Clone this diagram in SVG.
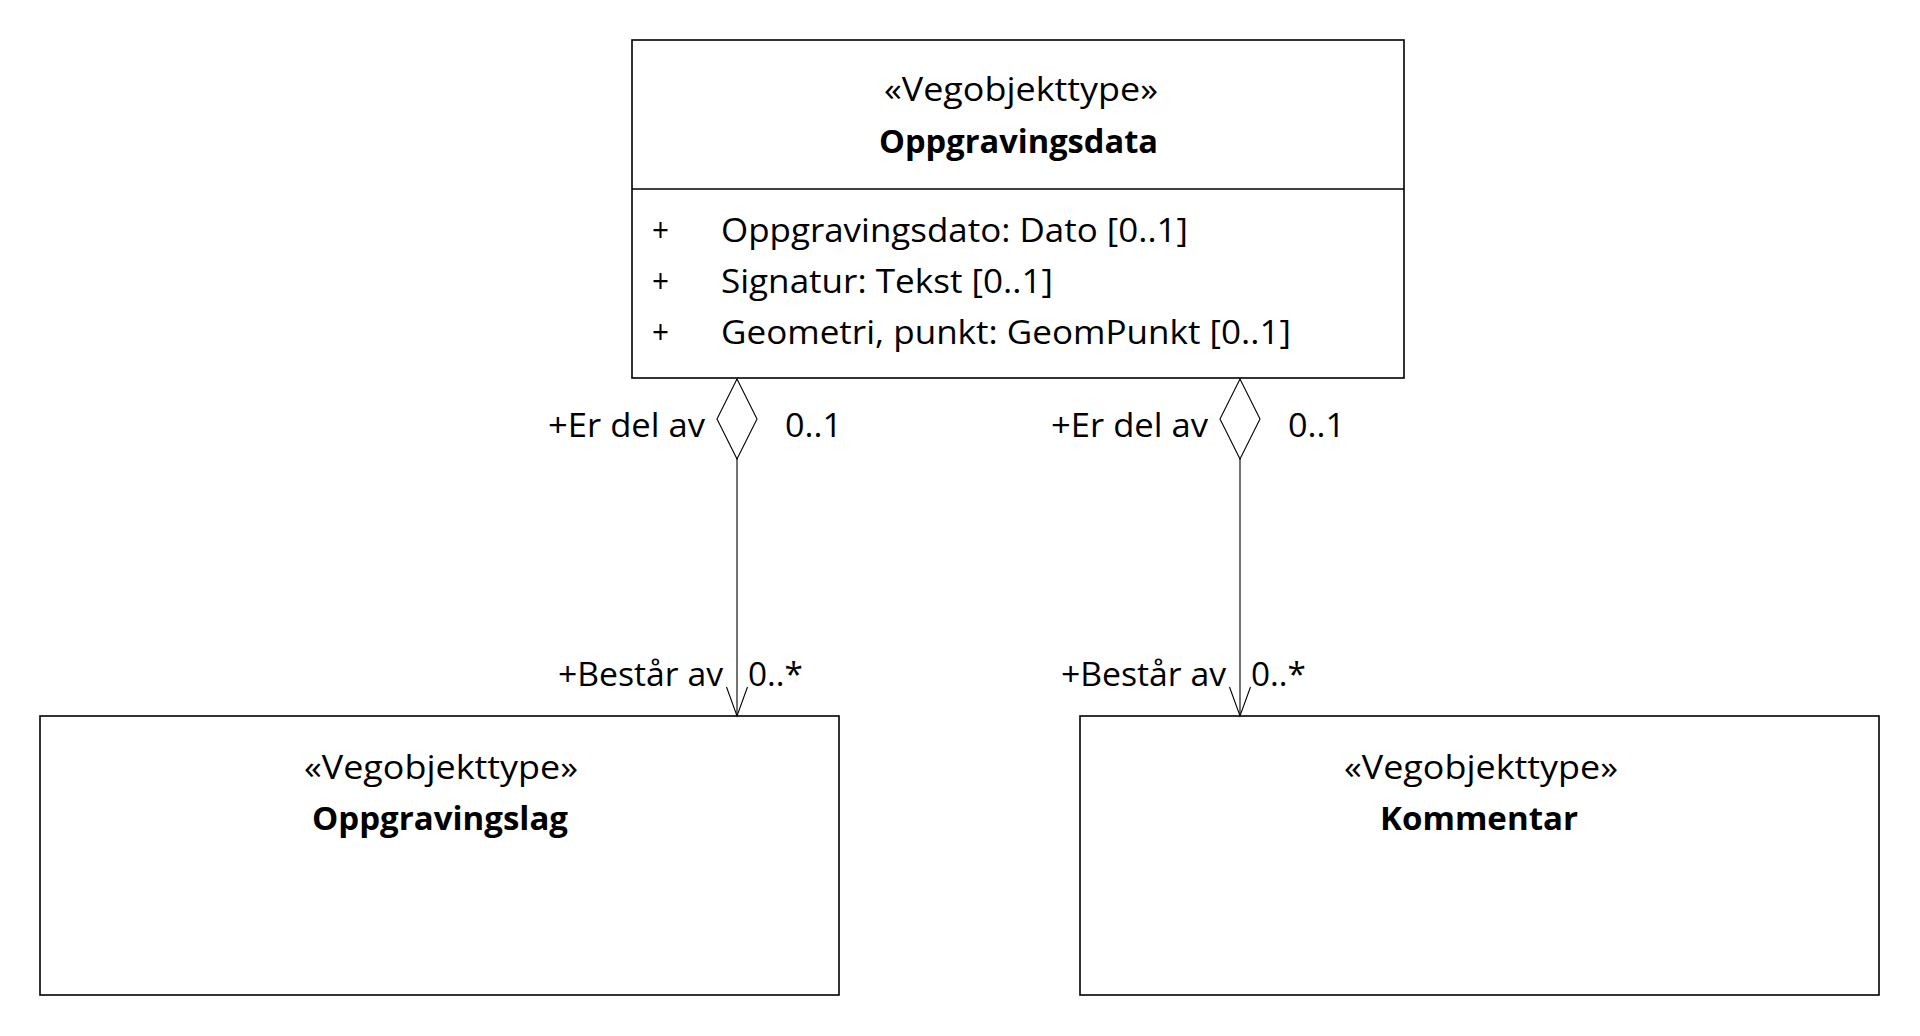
<svg xmlns="http://www.w3.org/2000/svg" width="1920" height="1036" viewBox="0 0 1920 1036">
<style>
  text { font-family: "Open Sans", "Liberation Sans", sans-serif; font-size: 33px; fill: #000; }
  .b { font-weight: bold; }
  .m { text-anchor: middle; }
  .box { fill: #fff; stroke: #000; stroke-width: 1.6; }
  .sep { stroke: #000; stroke-width: 1.4; }
  .conn { fill: none; stroke: #000; stroke-width: 1.1; }
</style>
<defs>
  <marker id="diamond" markerUnits="userSpaceOnUse" orient="auto" refX="0" refY="0" markerWidth="82" markerHeight="44" overflow="visible">
    <path d="M0,0 L40,-20 L80,0 L40,20 Z" fill="#fff" stroke="#000" stroke-width="1.1"/>
  </marker>
  <marker id="openArrow" markerUnits="userSpaceOnUse" orient="auto" refX="0" refY="0" markerWidth="32" markerHeight="24" overflow="visible">
    <path d="M-29,-10.5 L0,0 L-29,10.5" fill="none" stroke="#000" stroke-width="1.1"/>
  </marker>
</defs>
<rect width="1920" height="1036" fill="#fff"/>

<g id="Oppgravingsdata">
  <rect class="box" x="632" y="40" width="772" height="338"/>
  <line class="sep" x1="632" y1="189" x2="1404" y2="189"/>
  <text class="m" x="1021" y="101" textLength="274" lengthAdjust="spacingAndGlyphs">«Vegobjekttype»</text>
  <text class="m b" x="1018.5" y="153" textLength="279" lengthAdjust="spacingAndGlyphs">Oppgravingsdata</text>
  <text x="652" y="242" textLength="17" lengthAdjust="spacingAndGlyphs">+</text>
  <text x="721" y="242" textLength="467" lengthAdjust="spacingAndGlyphs">Oppgravingsdato: Dato [0..1]</text>
  <text x="652" y="293" textLength="17" lengthAdjust="spacingAndGlyphs">+</text>
  <text x="721" y="293" textLength="332" lengthAdjust="spacingAndGlyphs">Signatur: Tekst [0..1]</text>
  <text x="652" y="344" textLength="17" lengthAdjust="spacingAndGlyphs">+</text>
  <text x="721" y="344" textLength="570" lengthAdjust="spacingAndGlyphs">Geometri, punkt: GeomPunkt [0..1]</text>
</g>

<g id="Oppgravingslag">
  <rect class="box" x="40" y="716" width="799" height="279"/>
  <text class="m" x="441" y="779" textLength="274" lengthAdjust="spacingAndGlyphs">«Vegobjekttype»</text>
  <text class="m b" x="440" y="830" textLength="256" lengthAdjust="spacingAndGlyphs">Oppgravingslag</text>
</g>

<g id="Kommentar">
  <rect class="box" x="1080" y="716" width="799" height="279"/>
  <text class="m" x="1481" y="779" textLength="274" lengthAdjust="spacingAndGlyphs">«Vegobjekttype»</text>
  <text class="m b" x="1479" y="830" textLength="198" lengthAdjust="spacingAndGlyphs">Kommentar</text>
</g>

<g id="connectors">
  <g id="conn-oppgravingslag">
    <path class="conn" d="M737,379 L737,716" marker-start="url(#diamond)" marker-end="url(#openArrow)"/>
    <text x="548" y="437" textLength="157" lengthAdjust="spacingAndGlyphs">+Er del av</text>
    <text x="785" y="437" textLength="57" lengthAdjust="spacingAndGlyphs">0..1</text>
    <text x="558" y="686" textLength="165" lengthAdjust="spacingAndGlyphs">+Består av</text>
    <text x="748" y="686" textLength="55" lengthAdjust="spacingAndGlyphs">0..*</text>
  </g>
  <g id="conn-kommentar">
    <path class="conn" d="M1240,379 L1240,716" marker-start="url(#diamond)" marker-end="url(#openArrow)"/>
    <text x="1051" y="437" textLength="157" lengthAdjust="spacingAndGlyphs">+Er del av</text>
    <text x="1288" y="437" textLength="57" lengthAdjust="spacingAndGlyphs">0..1</text>
    <text x="1061" y="686" textLength="165" lengthAdjust="spacingAndGlyphs">+Består av</text>
    <text x="1251" y="686" textLength="55" lengthAdjust="spacingAndGlyphs">0..*</text>
  </g>
</g>
</svg>
